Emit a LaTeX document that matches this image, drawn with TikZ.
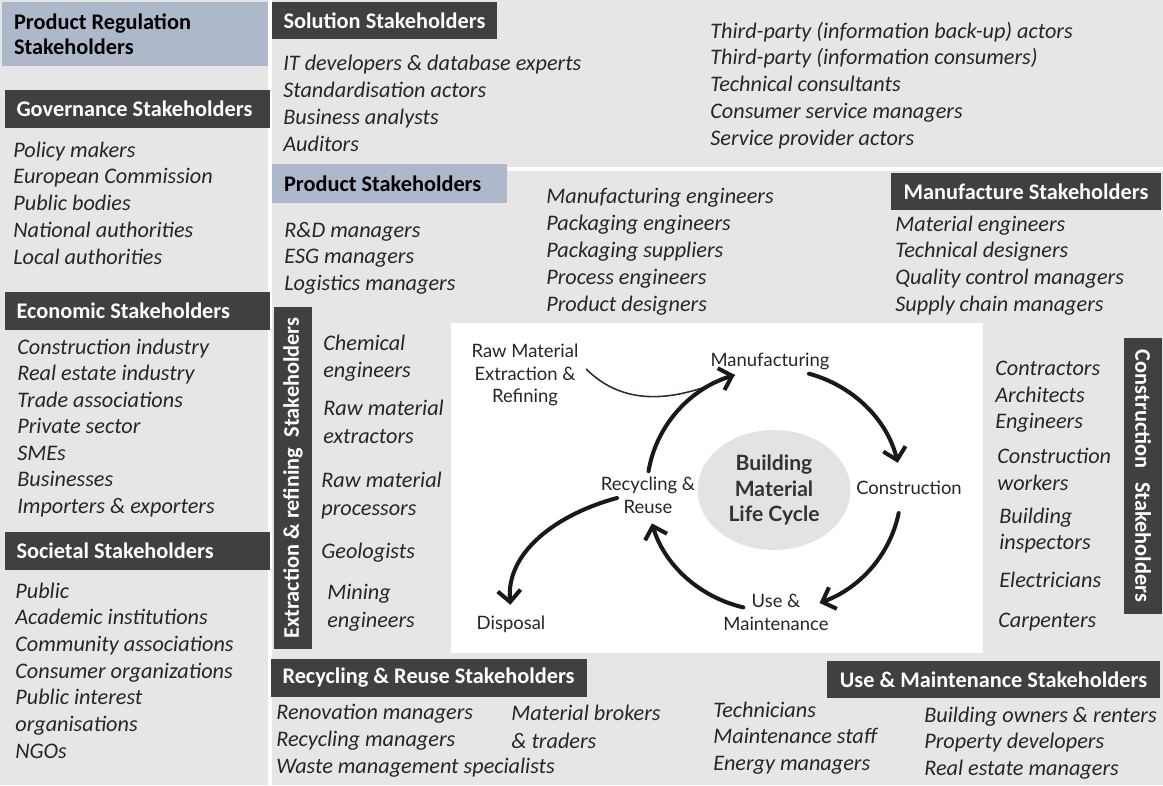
\documentclass[tikz,border=0pt]{standalone}
\usepackage{fontspec}
\setmainfont{Carlito}
\newfontfamily\cyclefont{Lato}
\usetikzlibrary{calc, arrows.meta, shapes.geometric, positioning}
\definecolor{PanelGray}{HTML}{E7E6E6}
\definecolor{HeadDark}{HTML}{404040}
\definecolor{HeadBlue}{HTML}{ADB9CA}
\definecolor{HubGray}{HTML}{E3E3E3}
\definecolor{RawLine}{HTML}{3A2B2B}
\tikzstyle{dark_header}=[rectangle,
        fill=HeadDark,
        text=white,
        font=\fontsize{12.7}{14.5}\selectfont\bfseries,
        inner ysep=0pt,
        inner xsep=0.24cm,
        minimum height=0.76cm, ]
\tikzstyle{blue_header}=[dark_header, fill=HeadBlue, text=black]
\tikzstyle{list_item}=[anchor=base west,
        inner sep=0pt,
        text=black!85,
        font=\fontsize{12.65}{15}\selectfont\itshape, ]
\tikzstyle{cycle_label}=[align=center,
        inner sep=2pt,
        text=black!85,
        font=\cyclefont\fontsize{10.5}{13}\selectfont, ]
\tikzstyle{cycle_arrow}=[line width=2.3pt,
        line cap=round,
        draw=black!90,
        -{Straight Barb[length=6.5pt, width=13pt]}, ]

\begin{document}
\begin{tikzpicture}[x=0.02cm, y=0.02cm]
    \useasboundingbox (0,0) rectangle (1163,-785);
    \fill[PanelGray] (0,0) rectangle (268,-785);
    \fill[PanelGray] (272,0) rectangle (1163,-167);
    \fill[PanelGray] (272,-171) rectangle (1163,-785);
    \fill[white] (451,-323) rectangle (983,-653);

    % headers
    \node at (135,-34) (prodreg) [blue_header, minimum width=5.32cm, minimum height=1.28cm, text width=4.84cm, align=flush left] {Product Regulation\\Stakeholders};
    \node at (137.5,-108.5) (gov) [dark_header, minimum width=5.27cm, text width=4.84cm, align=flush left] {Governance Stakeholders};
    \node at (137.5,-311) (econ) [dark_header, minimum width=5.27cm, text width=4.84cm, align=flush left] {Economic Stakeholders};
    \node at (137.5,-551) (soc) [dark_header, minimum width=5.27cm, text width=4.84cm, align=flush left] {Societal Stakeholders};
    \node at (384.5,-20.5) (sol) [dark_header, minimum width=4.5cm, minimum height=0.74cm] {Solution Stakeholders};
    \node at (389.5,-183.5) (prod) [blue_header, minimum width=4.7cm, minimum height=0.78cm, text width=4.22cm, align=flush left] {Product Stakeholders};
    \node at (1026,-191.5) (manu) [dark_header, minimum width=5.4cm, minimum height=0.74cm] {Manufacture Stakeholders};
    \node at (1143,-476) (cons) [dark_header, rotate=-90, minimum width=5.52cm, inner xsep=0pt] {Construction\hspace{0.4em} Stakeholders};
    \node at (293,-478) (extr) [dark_header, rotate=90, minimum width=6.84cm, inner xsep=0pt] {Extraction \& refining\hspace{0.25em} Stakeholders};
    \node at (428.5,-678) (recy) [dark_header, minimum width=6.26cm] {Recycling \& Reuse Stakeholders};
    \node at (993.5,-679.5) (usem) [dark_header, minimum width=6.66cm, minimum height=0.74cm] {Use \& Maintenance Stakeholders};

    % lists
    \foreach \txt [count=\i] in {Policy makers, European Commission, Public bodies, National authorities, Local authorities} {
        \node at (13, -130.25-26.75*\i) (gov-\i) [list_item] {\txt};
    }
    \foreach \txt [count=\i] in {Construction industry, Real estate industry, Trade associations, Private sector, SMEs, Businesses, Importers \& exporters} {
        \node at (17, -327.5-26.5*\i) (econ-\i) [list_item] {\txt};
    }
    \foreach \txt [count=\i] in {Public, Academic institutions, Community associations, Consumer organizations, Public interest, organisations, NGOs} {
        \node at (15, -571.33-26.67*\i) (soc-\i) [list_item] {\txt};
    }
    \foreach \txt [count=\i] in {IT developers \& database experts, Standardisation actors, Business analysts, Auditors} {
        \node at (283, -43-27*\i) (sola-\i) [list_item] {\txt};
    }
    \foreach \txt [count=\i] in {Third-party (information back-up) actors, Third-party (information consumers), Technical consultants, Consumer service managers, Service provider actors} {
        \node at (710, -11.25-26.75*\i) (solb-\i) [list_item] {\txt};
    }
    \foreach \txt [count=\i] in {R\&D managers, ESG managers, Logistics managers} {
        \node at (284, -210.5-26.5*\i) (proda-\i) [list_item] {\txt};
    }
    \foreach \txt [count=\i] in {Manufacturing engineers, Packaging engineers, Packaging suppliers, Process engineers, Product designers} {
        \node at (546, -176-27*\i) (prodb-\i) [list_item] {\txt};
    }
    \foreach \txt [count=\i] in {Material engineers, Technical designers, Quality control managers, Supply chain managers} {
        \node at (895, -204.33-26.67*\i) (manu-\i) [list_item] {\txt};
    }
    \foreach \lx/\ly/\txt [count=\i] in {323/350/Chemical, 323/377/engineers, 323/415/Raw material, 323/443/extractors, 321/487/Raw material, 321/515/processors, 321/558/Geologists, 327/599/Mining, 327/627/engineers} {
        \node at (\lx, -\ly) (extr-\i) [list_item] {\txt};
    }
    \foreach \lx/\ly/\txt [count=\i] in {995/375/Contractors, 995/402/Architects, 995/428/Engineers, 997/463/Construction, 997/490/workers, 999/523/Building, 999/549/inspectors, 999/587/Electricians, 998/627/Carpenters} {
        \node at (\lx, -\ly) (cons-\i) [list_item] {\txt};
    }
    \foreach \txt [count=\i] in {Renovation managers, Recycling managers, Waste management specialists} {
        \node at (276, -692-27*\i) (recya-\i) [list_item] {\txt};
    }
    \foreach \txt [count=\i] in {Material brokers, \& traders} {
        \node at (511, -692-28*\i) (recyb-\i) [list_item] {\txt};
    }
    \foreach \txt [count=\i] in {Technicians, Maintenance staff, Energy managers} {
        \node at (713, -690.5-26.5*\i) (usema-\i) [list_item] {\txt};
    }
    \foreach \txt [count=\i] in {Building owners \& renters, Property developers, Real estate managers} {
        \node at (924, -695.5-26.5*\i) (usemb-\i) [list_item] {\txt};
    }

    % life cycle
    \node at (774,-490) (hub) [ellipse, fill=HubGray, minimum width=3.06cm, minimum height=2.4cm, inner sep=0pt, align=center, text=black!80, font=\cyclefont\fontsize{12}{14.7}\selectfont\bfseries] {Building\\Material\\Life Cycle};
    \node at (525,-375) (raw) [cycle_label] {Raw Material\\Extraction \&\\Refining};
    \node at (770,-361) (manuf) [cycle_label] {Manufacturing};
    \node at (909,-488) (constr) [cycle_label] {Construction};
    \node at (776,-612) (usemaint) [cycle_label] {Use \&\\Maintenance};
    \node at (648,-495) (recyc) [cycle_label] {Recycling \&\\Reuse};
    \node at (511,-624) (disp) [cycle_label] {Disposal};

    \coordinate (arc1-s) at ($(hub)+(171:127 and 121)$);
    \coordinate (arc1-e) at ($(hub)+(108:127 and 121)$);
    \coordinate (arc2-s) at ($(hub)+(74:127 and 121)$);
    \coordinate (arc3-s) at ($(hub)+(-11:127 and 121)$);
    \coordinate (arc4-s) at ($(hub)+(-104:127 and 121)$);
    \coordinate (disp-in) at (617,-498);
    \coordinate (raw-out) at ($(raw.east)+(4,6)$);

    \draw[line width=0.9pt, RawLine] (raw-out) to[out=-45, in=205] (arc1-e);
    \draw[cycle_arrow] (arc1-s) arc[start angle=171, end angle=108, x radius=127, y radius=121];
    \draw[cycle_arrow] (arc2-s) arc[start angle=74, end angle=13, x radius=127, y radius=121];
    \draw[cycle_arrow] (arc3-s) arc[start angle=-11, end angle=-69, x radius=127, y radius=121];
    \draw[cycle_arrow] (arc4-s) arc[start angle=-104, end angle=-164, x radius=127, y radius=121];
    \draw[cycle_arrow, shorten >=0.14cm] (disp-in) to[out=195, in=95] (disp.north);

\end{tikzpicture}
\end{document}
